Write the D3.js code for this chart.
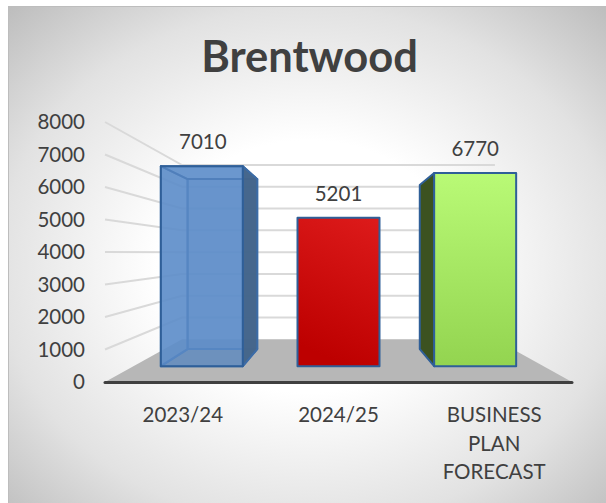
<!DOCTYPE html>
<meta charset="utf-8">
<style>
html, body { margin: 0; background: #fff; }
svg { display: block; }
text { font-family: Lato, "Open Sans", sans-serif; fill: #404040; }
</style>
<body>
<script src="https://d3js.org/d3.v7.min.js"></script>
<script>
var categories = ["2023/24", "2024/25", "BUSINESS PLAN FORECAST"];
var values = [7010, 5201, 6770];
var yTicks = [0, 1000, 2000, 3000, 4000, 5000, 6000, 7000, 8000];
var chartTitle = "Brentwood";

var width = 606, height = 503;
var cx = 338.5;
var barFront = 0.37, barBack = 0.77; // depth of the bars, 0 = front edge of floor, 1 = back wall

var svg = d3.select("body").append("svg")
    .attr("width", width)
    .attr("height", height);

var defs = svg.append("defs");

function addLinear(id, x1, x2, from, to) {
  var g = defs.append("linearGradient").attr("id", id)
      .attr("x1", x1).attr("y1", 0).attr("x2", x2).attr("y2", 1);
  g.append("stop").attr("offset", "0%").attr("stop-color", from);
  g.append("stop").attr("offset", "100%").attr("stop-color", to);
}
addLinear("redFill", 0.85, 0.6, "#dc1a1a", "#bd0000");
addLinear("greenFill", 0.5, 0.5, "#b9fa76", "#93d450");

var bg = defs.append("radialGradient").attr("id", "panel")
    .attr("cx", "50%").attr("cy", "52%").attr("r", "72%");
bg.append("stop").attr("offset", "0%").attr("stop-color", "#ffffff");
bg.append("stop").attr("offset", "35%").attr("stop-color", "#ffffff");
bg.append("stop").attr("offset", "72%").attr("stop-color", "#e2e2e2");
bg.append("stop").attr("offset", "100%").attr("stop-color", "#bdbdbd");

// front and back planes of the 3d box
var yFront = d3.scaleLinear().domain([0, 8000]).range([382, 122]);
var yBack = d3.scaleLinear().domain([0, 8000]).range([339.3, 165]);
var x = d3.scaleBand().domain(categories).range([-233.5, 233.5])
    .paddingInner(0.4).paddingOuter(0.2);

function py(v, d) { return yFront(v) + (yBack(v) - yFront(v)) * d; }
function px(u, d) { return cx + u * (1 - 0.33 * d); }
function pt(u, v, d) { return [px(u, d), py(v, d)]; }
function poly(points) { return points.map(function(p) { return p.join(","); }).join(" "); }

svg.append("rect")
    .attr("x", 8.5).attr("y", 6.5)
    .attr("width", 600).attr("height", 500)
    .attr("fill", "url(#panel)")
    .attr("stroke", "#bdbdbd");

svg.append("text")
    .attr("x", 309.5).attr("y", 72)
    .attr("text-anchor", "middle")
    .attr("font-size", 43.5).attr("font-weight", 700)
    .text(chartTitle);

// floor
svg.append("polygon")
    .attr("points", poly([pt(-233.5, 0, 0), pt(233.5, 0, 0), pt(233.5, 0, 1), pt(-233.5, 0, 1)]))
    .attr("fill", "#b7b7b7");

// gridlines on side and back wall
svg.append("g").selectAll("polyline")
  .data(yTicks.slice(1))
  .enter().append("polyline")
    .attr("points", function(d) { return poly([pt(-233.5, d, 0), pt(-233.5, d, 1), pt(233.5, d, 1)]); })
    .attr("fill", "none")
    .attr("stroke", "#d9d9d9")
    .attr("stroke-width", 2);

svg.append("line")
    .attr("x1", px(-233.5, 0)).attr("x2", px(233.5, 0))
    .attr("y1", yFront(0) + 0.5).attr("y2", yFront(0) + 0.5)
    .attr("stroke", "#404040")
    .attr("stroke-width", 3)
    .attr("stroke-linecap", "round");

var edge = "#2f5f98";

function face(g, points, fill, opacity, stroke) {
  g.append("polygon")
      .attr("points", poly(points))
      .attr("fill", fill)
      .attr("fill-opacity", opacity)
      .attr("stroke", stroke || edge)
      .attr("stroke-width", 2)
      .attr("stroke-linejoin", "round");
}

// first bar: see-through box
var g0 = svg.append("g");
var l0 = x(categories[0]), r0 = l0 + x.bandwidth(), v0 = values[0];
face(g0, [pt(l0, v0, barBack), pt(r0, v0, barBack), pt(r0, 0, barBack), pt(l0, 0, barBack)], "#5888c4", 0.85, "#4a7ab5");
face(g0, [pt(l0, 0, barFront), pt(r0, 0, barFront), pt(r0, 0, barBack), pt(l0, 0, barBack)], "#44709f", 0.5, "#4a7ab5");
face(g0, [pt(l0, v0, barFront), pt(l0, v0, barBack), pt(l0, 0, barBack), pt(l0, 0, barFront)], "#5888c4", 0.8, "#4a7ab5");
face(g0, [pt(l0, v0, barFront), pt(r0, v0, barFront), pt(r0, v0, barBack), pt(l0, v0, barBack)], "#5888c4", 0.8, "#3d6ca6");
face(g0, [pt(r0, v0, barFront), pt(r0, v0, barBack), pt(r0, 0, barBack), pt(r0, 0, barFront)], "#436489", 0.95, "#3d6ca6");
face(g0, [pt(l0, v0, barFront), pt(r0, v0, barFront), pt(r0, 0, barFront), pt(l0, 0, barFront)], "#6090cc", 0.55);

// second bar: front only, the side is hidden straight on
var g1 = svg.append("g");
var l1 = x(categories[1]), r1 = l1 + x.bandwidth(), v1 = values[1];
face(g1, [pt(l1, v1, barFront), pt(r1, v1, barFront), pt(r1, 0, barFront), pt(l1, 0, barFront)], "url(#redFill)", 1);

// third bar: dark left side
var g2 = svg.append("g");
var l2 = x(categories[2]), r2 = l2 + x.bandwidth(), v2 = values[2];
face(g2, [pt(l2, v2, barFront), pt(l2, v2, barBack), pt(l2, 0, barBack), pt(l2, 0, barFront)], "#3c5220", 1);
face(g2, [pt(l2, v2, barFront), pt(r2, v2, barFront), pt(r2, 0, barFront), pt(l2, 0, barFront)], "url(#greenFill)", 1);

// value labels
svg.append("g").selectAll("text")
  .data(values)
  .enter().append("text")
    .attr("x", function(d, i) { return px(x(categories[i]) + x.bandwidth() / 2, barFront) + [1, 0, 0][i]; })
    .attr("y", function(d) { return py(d, barFront) - 17; })
    .attr("text-anchor", "middle")
    .attr("font-size", 20.5)
    .text(function(d) { return d; });

// axes
var yAxis = d3.axisLeft(yFront).tickValues(yTicks).tickFormat(d3.format("d")).tickSize(0).tickPadding(20);
var yG = svg.append("g")
    .attr("transform", "translate(105,0)")
    .call(yAxis);
yG.select(".domain").remove();
yG.selectAll("text").attr("font-size", 20.5).style("font-family", "Lato").attr("fill", "#404040");

var xAxis = d3.axisBottom(x).tickSize(0).tickPadding(0);
var xG = svg.append("g")
    .attr("transform", "translate(" + cx + ",382)")
    .call(xAxis);
xG.select(".domain").remove();
xG.selectAll("text")
    .attr("font-size", 20.5)
    .attr("dy", null)
    .style("font-family", "Lato")
    .attr("fill", "#404040")
    .each(function(d) {
      var t = d3.select(this).text(null);
      d.split(" ").forEach(function(w, i) {
        t.append("tspan").attr("x", 0).attr("y", 40 + i * 28.5).text(w);
      });
    });
</script>
</body>
